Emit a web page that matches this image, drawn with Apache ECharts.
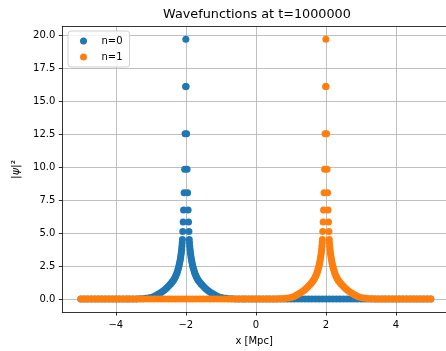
<!DOCTYPE html>
<html><head><meta charset="utf-8">
<script src="https://cdn.jsdelivr.net/npm/echarts@6/dist/echarts.min.js"></script>
<style>html,body{margin:0;padding:0;background:#fff}#c{width:446px;height:351px}</style>
</head><body><div id="c"></div>
<script>
const chartTitle = 'Wavefunctions at t=1000000';
const seriesNames = ['n=0', 'n=1'];
const seriesColors = ['#1f77b4', '#ff7f0e'];
const peakCentres = [-2, 2];
// distance from the peak centre (x units) and |psi|^2
const peakOffsets = [0, 0.008, 0.022, 0.035, 0.05, 0.065, 0.077, 0.088, 0.098,
  0.105, 0.112, 0.12, 0.128, 0.137, 0.146, 0.156, 0.166, 0.177, 0.189, 0.2,
  0.215, 0.23, 0.245, 0.26, 0.28, 0.3, 0.32, 0.345, 0.37, 0.4, 0.43, 0.46,
  0.5, 0.54, 0.58, 0.62, 0.67, 0.72, 0.77, 0.82, 0.87, 0.93, 1.0, 1.07,
  1.15, 1.23, 1.32, 1.42, 1.52, 1.62];
const peakValues = [19.73, 16.15, 12.55, 9.86, 8.08, 6.77, 5.86, 5.13, 4.53,
  4.25, 4.0, 3.78, 3.58, 3.4, 3.22, 3.06, 2.9, 2.75, 2.61, 2.48,
  2.33, 2.19, 2.06, 1.94, 1.81, 1.69, 1.58, 1.47, 1.37, 1.27, 1.17, 1.08,
  0.97, 0.86, 0.76, 0.67, 0.57, 0.48, 0.4, 0.32, 0.25, 0.18, 0.12, 0.08,
  0.05, 0.03, 0.015, 0.007, 0.003, 0.001];
// x positions where |psi|^2 is ~0
const baseX = [-5.0, -4.9, -4.8, -4.7, -4.6, -4.5, -4.4, -4.3, -4.2, -4.1,
  -4.0, -3.9, -3.8, -3.7, -3.6, -3.5, -3.4, -3.3, -3.2, -3.1,
  -3.0, -2.9, -2.8, -2.7, -2.6, -2.5, -2.4, -2.3, -2.2, -2.1,
  -2.0, -1.9, -1.8, -1.7, -1.6, -1.5, -1.4, -1.3, -1.2, -1.1,
  -1.0, -0.9, -0.8, -0.7, -0.6, -0.5, -0.4, -0.3, -0.2, -0.1,
  0.0, 0.1, 0.2, 0.3, 0.4, 0.5, 0.6, 0.7, 0.8, 0.9,
  1.0, 1.1, 1.2, 1.3, 1.4, 1.5, 1.6, 1.7, 1.8, 1.9,
  2.0, 2.1, 2.2, 2.3, 2.4, 2.5, 2.6, 2.7, 2.8, 2.9,
  3.0, 3.1, 3.2, 3.3, 3.4, 3.5, 3.6, 3.7, 3.8, 3.9,
  4.0, 4.1, 4.2, 4.3, 4.4, 4.5, 4.6, 4.7, 4.8, 4.9, 5.0];
const xTicks = [-4, -2, 0, 2, 4];
const yTicks = [0, 2.5, 5, 7.5, 10, 12.5, 15, 17.5, 20];
const xRange = [-5.53, 5.433];   // right end of the axes is cut off by the image edge
const yRange = [-0.985, 20.685];

function buildPoints(c) {
  const pts = [];
  baseX.forEach(x => { if (Math.abs(x - c) > 1.65) pts.push([x, 0]); });
  peakOffsets.forEach((d, i) => {
    pts.push([c - d, peakValues[i]]);
    if (d > 0) pts.push([c + d, peakValues[i]]);
  });
  return pts;
}

const font = 'DejaVu Sans';
const spine = {color: '#000', width: 0.8};
const chart = echarts.init(document.getElementById('c'), null, {renderer: 'canvas'});
chart.setOption({
  animation: false,
  backgroundColor: '#fff',
  title: {
    text: chartTitle, left: 252, top: 3, textAlign: 'center',
    textStyle: {fontFamily: font, fontSize: 12.8, fontWeight: 'normal', color: '#000'}
  },
  legend: {
    orient: 'vertical', left: 68, top: 31,
    padding: [4, 7, 4, 12], itemGap: 4,
    itemWidth: 26, itemHeight: 7, icon: 'circle',
    backgroundColor: 'rgba(255,255,255,0.8)', borderColor: '#d0d0d0', borderWidth: 1, borderRadius: 3,
    textStyle: {fontFamily: font, fontSize: 10, color: '#000', lineHeight: 12},
    data: seriesNames
  },
  grid: {left: 62.3, top: 26.7, right: 0, bottom: 37.7, show: false},
  xAxis: [{
    type: 'value', min: xRange[0], max: xRange[1], position: 'bottom',
    name: 'x [Mpc]', nameLocation: 'middle', nameGap: 24,
    nameTextStyle: {fontFamily: font, fontSize: 10, color: '#000'},
    axisLine: {show: true, onZero: false, lineStyle: spine},
    axisTick: {show: true, length: 3.5, lineStyle: spine, customValues: xTicks},
    axisLabel: {fontFamily: font, fontSize: 10, color: '#000', margin: 8, customValues: xTicks,
      formatter: v => String(v).replace('-', '\u2212')},
    splitLine: {show: true, lineStyle: {color: '#b0b0b0', width: 0.8}}
  }, {
    type: 'value', min: xRange[0], max: xRange[1], position: 'top',
    axisLine: {show: true, onZero: false, lineStyle: spine},
    axisTick: {show: false}, axisLabel: {show: false}, splitLine: {show: false}
  }],
  yAxis: {
    type: 'value', min: yRange[0], max: yRange[1],
    name: '|{i|ψ}|²', nameLocation: 'middle', nameGap: 40,
    nameTextStyle: {fontFamily: font, fontSize: 11, color: '#000', rich: {i: {fontFamily: font, fontSize: 11, fontStyle: 'italic', color: '#000'}}},
    axisLine: {show: true, onZero: false, lineStyle: spine},
    axisTick: {show: true, length: 3.5, lineStyle: spine, customValues: yTicks},
    axisLabel: {fontFamily: font, fontSize: 10, color: '#000', margin: 7, customValues: yTicks,
      formatter: v => v.toFixed(1)},
    splitLine: {show: true, lineStyle: {color: '#b0b0b0', width: 0.8}}
  },
  series: seriesNames.map((name, k) => ({
    name: name, type: 'scatter', symbol: 'circle', symbolSize: 7,
    xAxisIndex: 0,
    itemStyle: {color: seriesColors[k], opacity: 1},
    data: buildPoints(peakCentres[k]), z: 2 + k
  }))
});
</script></body></html>
